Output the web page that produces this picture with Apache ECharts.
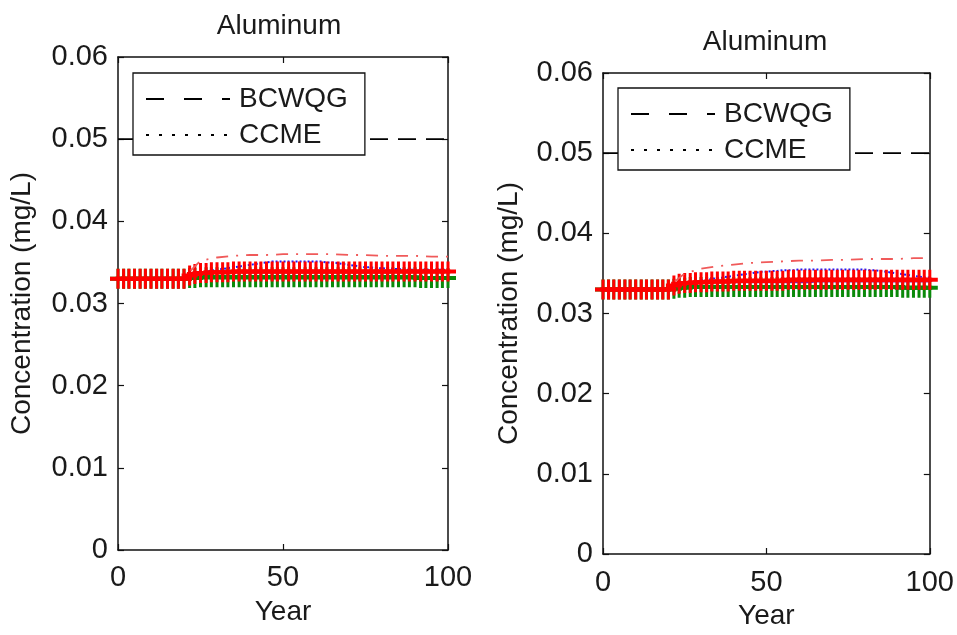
<!DOCTYPE html>
<html>
<head>
<meta charset="utf-8">
<script src="https://cdn.jsdelivr.net/npm/echarts@6/dist/echarts.min.js"></script>
<style>
html,body{margin:0;padding:0;background:#fff;}
#chart{width:957px;height:635px;}
</style>
</head>
<body>
<div id="chart"></div>
<script>
// ---------- DATA ----------
const titles = ['Aluminum', 'Aluminum'];
const xTicks = [0, 50, 100];
const yTicks = [0, 0.01, 0.02, 0.03, 0.04, 0.05, 0.06];
const guideYears = [0, 100];
const bcwqg = [0.05, 0.05];
const ccme = [0.1, 0.1];

const years = [0,1.7,3.3,5,6.7,8.3,10,11.7,13.3,15,16.7,18.3,20,21.7,23.3,25,26.7,28.3,30,31.7,33.3,35,36.7,38.3,40,41.7,43.3,45,46.7,48.3,50,51.7,53.3,55,56.7,58.3,60,61.7,63.3,65,66.7,68.3,70,71.7,73.3,75,76.7,78.3,80,81.7,83.3,85,86.7,88.3,90,91.7,93.3,95,96.7,98.3,100];

// left panel
const leftRed = [0.033,0.033,0.033,0.033,0.033,0.033,0.033,0.033,0.033,0.033,0.033,0.033,0.033,
  0.0334,0.0336,0.0337,0.0337,0.0338,0.0338,0.0338,0.0338,0.0339,0.0339,0.0339,0.0339,0.0339,0.0339,0.0339,0.0339,0.0339,0.0339,0.0339,0.0339,0.0339,0.0339,0.0339,0.0339,0.0339,0.0339,0.0339,0.0339,0.0339,0.0339,0.0339,0.0339,0.0339,0.0339,0.0339,0.0339,0.0339,0.0339,0.0339,0.0339,0.0339,0.0339,0.0339,0.0339,0.0339,0.0339,0.0339,0.0339];
const leftGreen = [0.033,0.033,0.033,0.033,0.033,0.033,0.033,0.033,0.033,0.033,0.033,0.033,0.033,
  0.0331,0.0331,0.0332,0.0332,0.0332,0.0332,0.0332,0.0332,0.0332,0.0332,0.0332,0.0332,0.0332,0.0332,0.0332,0.0332,0.0332,0.0332,0.0332,0.0332,0.0332,0.0332,0.0332,0.0332,0.0332,0.0332,0.0332,0.0332,0.0332,0.0332,0.0332,0.0332,0.0332,0.0332,0.0332,0.0332,0.0332,0.0332,0.0332,0.0332,0.0332,0.0332,0.0331,0.0331,0.0331,0.0331,0.0331,0.0331];
const leftBlue = [0.033,0.033,0.033,0.033,0.033,0.033,0.033,0.033,0.033,0.033,0.033,0.033,0.033,
  0.0335,0.0337,0.0338,0.0339,0.0340,0.0341,0.0342,0.0343,0.0344,0.0345,0.0346,0.0347,0.0348,0.0349,0.0350,0.0351,0.0351,0.0351,0.0351,0.0351,0.0351,0.0351,0.0351,0.0351,0.0351,0.0350,0.0350,0.0349,0.0348,0.0347,0.0346,0.0345,0.0344,0.0344,0.0343,0.0343,0.0342,0.0342,0.0342,0.0341,0.0341,0.0341,0.0341,0.0341,0.0341,0.0341,0.0341,0.0341];
const leftMagenta = [0.033,0.033,0.033,0.033,0.033,0.033,0.033,0.033,0.033,0.033,0.033,0.033,0.033,
  0.0333,0.0335,0.0336,0.0337,0.0337,0.0338,0.0338,0.0338,0.0338,0.0338,0.0338,0.0338,0.0338,0.0338,0.0338,0.0338,0.0338,0.0338,0.0338,0.0338,0.0338,0.0338,0.0338,0.0338,0.0338,0.0338,0.0338,0.0338,0.0338,0.0338,0.0338,0.0338,0.0338,0.0338,0.0338,0.0338,0.0338,0.0338,0.0339,0.0339,0.0339,0.0339,0.0339,0.0339,0.0339,0.0339,0.0339,0.0339];
const dashYears = [22,25,30,35,40,45,50,55,60,65,70,75,80,85,90,95,100];
const leftDashDot = [0.0340,0.0352,0.0356,0.0358,0.0359,0.0359,0.0360,0.0360,0.0360,0.0360,0.0359,0.0359,0.0358,0.0358,0.0358,0.0357,0.0357];

// right panel
const rightRed = [0.033,0.033,0.033,0.033,0.033,0.033,0.033,0.033,0.033,0.033,0.033,0.033,0.033,
  0.0335,0.0337,0.0338,0.0338,0.0339,0.0339,0.0339,0.0340,0.0340,0.0340,0.0340,0.0341,0.0341,0.0341,0.0341,0.0341,0.0341,0.0341,0.0341,0.0341,0.0341,0.0342,0.0342,0.0342,0.0342,0.0342,0.0342,0.0342,0.0342,0.0342,0.0342,0.0342,0.0342,0.0342,0.0342,0.0342,0.0342,0.0342,0.0342,0.0342,0.0342,0.0342,0.0342,0.0342,0.0342,0.0342,0.0342,0.0342];
const rightGreen = [0.033,0.033,0.033,0.033,0.033,0.033,0.033,0.033,0.033,0.033,0.033,0.033,0.033,
  0.0331,0.0332,0.0332,0.0333,0.0333,0.0333,0.0333,0.0333,0.0333,0.0333,0.0333,0.0333,0.0333,0.0333,0.0333,0.0333,0.0333,0.0333,0.0333,0.0333,0.0333,0.0333,0.0333,0.0333,0.0333,0.0333,0.0333,0.0333,0.0333,0.0333,0.0333,0.0333,0.0333,0.0333,0.0333,0.0333,0.0333,0.0333,0.0333,0.0333,0.0333,0.0333,0.0332,0.0332,0.0332,0.0332,0.0332,0.0332];
const rightBlue = [0.033,0.033,0.033,0.033,0.033,0.033,0.033,0.033,0.033,0.033,0.033,0.033,0.033,
  0.0335,0.0337,0.0338,0.0339,0.0340,0.0341,0.0342,0.0343,0.0344,0.0345,0.0346,0.0347,0.0348,0.0349,0.0350,0.0351,0.0352,0.0352,0.0353,0.0353,0.0354,0.0354,0.0354,0.0355,0.0355,0.0355,0.0355,0.0355,0.0355,0.0355,0.0355,0.0355,0.0355,0.0355,0.0355,0.0355,0.0354,0.0354,0.0353,0.0352,0.0351,0.0350,0.0349,0.0348,0.0347,0.0346,0.0345,0.0345];
const rightMagenta = [0.033,0.033,0.033,0.033,0.033,0.033,0.033,0.033,0.033,0.033,0.033,0.033,0.033,
  0.0334,0.0336,0.0337,0.0338,0.0338,0.0338,0.0339,0.0339,0.0339,0.0339,0.0339,0.0339,0.0339,0.0339,0.0339,0.0339,0.0339,0.0339,0.0339,0.0339,0.0339,0.0339,0.0339,0.0339,0.0339,0.0339,0.0340,0.0340,0.0340,0.0340,0.0340,0.0340,0.0340,0.0340,0.0340,0.0340,0.0340,0.0340,0.0340,0.0340,0.0340,0.0340,0.0340,0.0340,0.0340,0.0340,0.0340,0.0340];
const rightDashDot = [0.0340,0.0350,0.0356,0.0359,0.0361,0.0363,0.0364,0.0365,0.0366,0.0366,0.0367,0.0367,0.0368,0.0368,0.0368,0.0369,0.0369];

// ---------- CHART ----------
const FONT = 'Liberation Sans, Arial, sans-serif';
const TXT = '#1a1a1a';
const pair = (xs, ys) => xs.map((x, i) => [x, ys[i]]);
const plus = 'path://M6.5,0h3v20h-3z M0,8h16v4h-16z';

const grids = [
  {left: 118, right: 509, top: 57, bottom: 85},
  {left: 603, right: 25, top: 73, bottom: 72}
];

const axisLineStyle = {onZero: false, lineStyle: {color: '#111', width: 1.5}};
const tickStyle = {inside: true, length: 6, lineStyle: {color: '#111', width: 1.2}};
const xAxes = [], yAxes = [];
grids.forEach((g, gi) => {
  xAxes.push({
    gridIndex: gi, type: 'value', min: 0, max: 100, interval: 50, position: 'bottom',
    name: 'Year', nameLocation: 'middle', nameGap: 48,
    nameTextStyle: {fontFamily: FONT, fontSize: 28, color: TXT},
    axisLine: axisLineStyle, axisTick: tickStyle,
    axisLabel: {fontFamily: FONT, fontSize: 29, color: TXT, margin: gi === 0 ? 13 : 14},
    splitLine: {show: false}
  });
  xAxes.push({
    gridIndex: gi, type: 'value', min: 0, max: 100, interval: 50, position: 'top',
    axisLine: axisLineStyle, axisTick: tickStyle,
    axisLabel: {show: false}, splitLine: {show: false}
  });
  yAxes.push({
    gridIndex: gi, type: 'value', min: 0, max: 0.06, interval: 0.01, position: 'left',
    name: 'Concentration (mg/L)', nameLocation: 'middle', nameGap: gi === 0 ? 82 : 80,
    nameTextStyle: {fontFamily: FONT, fontSize: 28, color: TXT},
    axisLine: axisLineStyle, axisTick: tickStyle,
    axisLabel: {fontFamily: FONT, fontSize: 29, color: TXT, margin: 10,
      formatter: v => v === 0 ? '0' : v.toFixed(2)},
    splitLine: {show: false}
  });
  yAxes.push({
    gridIndex: gi, type: 'value', min: 0, max: 0.06, interval: 0.01, position: 'right',
    axisLine: axisLineStyle, axisTick: tickStyle,
    axisLabel: {show: false}, splitLine: {show: false}
  });
});

function panelSeries(gi, red, green, blue, magenta, dashdot) {
  const xi = gi * 2, yi = gi * 2;
  return [
    {name: 'BCWQG', type: 'line', xAxisIndex: xi, yAxisIndex: yi, data: pair(guideYears, bcwqg),
     symbol: 'none', lineStyle: {color: '#000', width: 1.6, type: [18, 10]}, itemStyle: {color: '#000'}, z: 2, silent: true},
    {name: 'CCME', type: 'line', xAxisIndex: xi, yAxisIndex: yi, data: pair(guideYears, ccme),
     symbol: 'none', lineStyle: {color: '#000', width: 1.6, type: [3, 10]}, itemStyle: {color: '#000'}, z: 2, silent: true},
    {name: 'green', type: 'line', xAxisIndex: xi, yAxisIndex: yi, data: pair(years, green), clip: false,
     symbol: plus, symbolSize: [16, 20], symbolKeepAspect: false, showAllSymbol: true,
     lineStyle: {color: '#0a8a0a', width: 1.5}, itemStyle: {color: '#0a8a0a'}, z: 3, silent: true},
    {name: 'magenta', type: 'line', xAxisIndex: xi, yAxisIndex: yi, data: pair(years, magenta), clip: false,
     symbol: 'none', lineStyle: {color: '#8a1a9a', width: 2.2}, z: 4, silent: true},
    {name: 'blue', type: 'line', xAxisIndex: xi, yAxisIndex: yi, data: pair(years, blue), clip: false,
     symbol: 'none', lineStyle: {color: '#1a1aff', width: 2, type: [2, 2]}, z: 4, silent: true},
    {name: 'red', type: 'line', xAxisIndex: xi, yAxisIndex: yi, data: pair(years, red), clip: false,
     symbol: plus, symbolSize: [16, 20], symbolKeepAspect: false, showAllSymbol: true,
     lineStyle: {color: '#ff0000', width: 2}, itemStyle: {color: '#ff0000'}, z: 5, silent: true},
    {name: 'dashdot', type: 'line', xAxisIndex: xi, yAxisIndex: yi, data: pair(dashYears, dashdot), clip: false,
     symbol: 'none', lineStyle: {color: '#f05a5a', width: 1.8, type: [12, 8, 2, 8]}, z: 6, silent: true}
  ];
}

const legendCommon = {
  orient: 'vertical',
  data: [
    {name: 'BCWQG', lineStyle: {type: [18, 20]}},
    {name: 'CCME', lineStyle: {type: [3, 10]}}
  ],
  selectedMode: false,
  borderColor: '#111', borderWidth: 1.3, backgroundColor: '#fff', borderRadius: 0,
  itemWidth: 84, itemHeight: 14, itemGap: 8, padding: [12, 17, 6, 12],
  itemStyle: {opacity: 0},
  textStyle: {fontFamily: FONT, fontSize: 28, color: TXT, padding: [0, 0, 0, 4]}, z: 20
};

const option = {
  animation: false,
  backgroundColor: '#fff',
  grid: grids,
  xAxis: xAxes,
  yAxis: yAxes,
  legend: [
    Object.assign({left: 133, top: 73}, legendCommon),
    Object.assign({left: 618, top: 88}, legendCommon)
  ],
  graphic: [
    {type: 'text', x: 279, y: 26, style: {text: titles[0], font: '28px ' + FONT, fill: TXT, textAlign: 'center', textVerticalAlign: 'middle'}},
    {type: 'text', x: 765, y: 42, style: {text: titles[1], font: '28px ' + FONT, fill: TXT, textAlign: 'center', textVerticalAlign: 'middle'}}
  ],
  series: [].concat(
    panelSeries(0, leftRed, leftGreen, leftBlue, leftMagenta, leftDashDot),
    panelSeries(1, rightRed, rightGreen, rightBlue, rightMagenta, rightDashDot)
  )
};

const chart = echarts.init(document.getElementById('chart'), null, {renderer: 'canvas'});
chart.setOption(option);
</script>
</body>
</html>
